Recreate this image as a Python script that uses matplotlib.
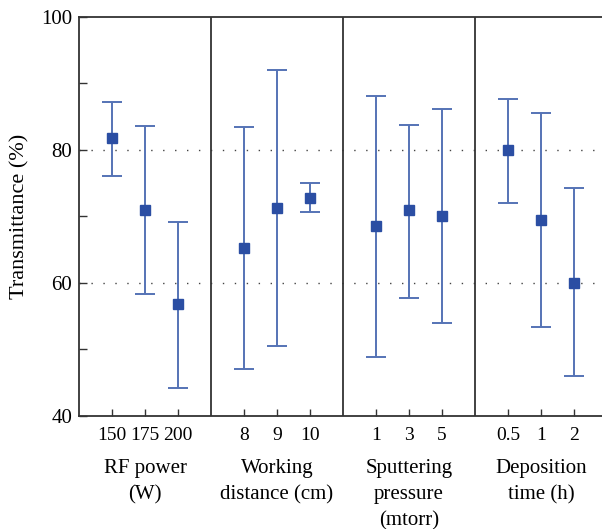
import matplotlib
matplotlib.use("Agg")
import matplotlib.pyplot as plt
import numpy as np

plt.rcParams['font.family'] = ['Liberation Serif', 'DejaVu Serif']

groups = ["RF power\n(W)", "Working\ndistance (cm)", "Sputtering\npressure\n(mtorr)", "Deposition\ntime (h)"]
tick_labels = [["150", "175", "200"], ["8", "9", "10"], ["1", "3", "5"], ["0.5", "1", "2"]]
means = [[81.7, 71.0, 56.8], [65.2, 71.3, 72.8], [68.6, 70.9, 70.0], [79.9, 69.4, 60.0]]
upper = [[87.2, 83.6, 69.2], [83.4, 92.0, 75.0], [88.1, 83.8, 86.1], [87.7, 85.5, 74.3]]
lower = [[76.1, 58.4, 44.2], [47.1, 50.5, 70.7], [48.9, 57.8, 54.0], [72.0, 53.4, 46.0]]

fig = plt.figure(figsize=(6.02, 5.29), dpi=100)
ax = fig.add_axes([79/602, 113/529, 528/602, 399.3/529])

marker_color = "#2b4ea3"
err_color = "#5573b6"
spine_color = "#333333"
fs = 15

xs_all, labels_all = [], []
for g in range(len(groups)):
    xs = np.arange(1, 4) + 4 * g
    m = np.array(means[g]); u = np.array(upper[g]); l = np.array(lower[g])
    ax.errorbar(xs, m, yerr=[m - l, u - m], fmt='none', ecolor=err_color,
                elinewidth=1.4, capsize=7, capthick=1.4, zorder=3)
    ax.plot(xs, m, 's', color=marker_color, markersize=7, zorder=4)
    xs_all += list(xs); labels_all += tick_labels[g]
    ax.text(4 * g + 2, -0.108, groups[g], transform=ax.get_xaxis_transform(),
            ha='center', va='top', fontsize=fs, linespacing=1.5)
    if g > 0:
        ax.axvline(4 * g, color=spine_color, lw=1.3, zorder=2)

for yv in [60, 80]:
    ax.axhline(yv, color="#444444", lw=1.0, linestyle=(0, (1, 7.6)), zorder=1)

ax.set_xlim(0, 16)
ax.set_ylim(40, 100)
ax.set_xticks(xs_all)
ax.set_xticklabels(labels_all)
ax.set_yticks([40, 60, 80, 100])
ax.set_yticks([50, 70, 90], minor=True)
ax.tick_params(axis='both', which='both', direction='in', labelsize=fs, color=spine_color, width=1.0)
ax.tick_params(axis='x', length=5, pad=8, labelsize=14)
ax.tick_params(axis='y', which='major', length=6, pad=5)
ax.tick_params(axis='y', which='minor', length=6)
ax.set_ylabel("Transmittance (%)", fontsize=16, labelpad=8)
for s in ax.spines.values():
    s.set_color(spine_color)
    s.set_linewidth(1.3)

fig.savefig("out.png", dpi=100)
